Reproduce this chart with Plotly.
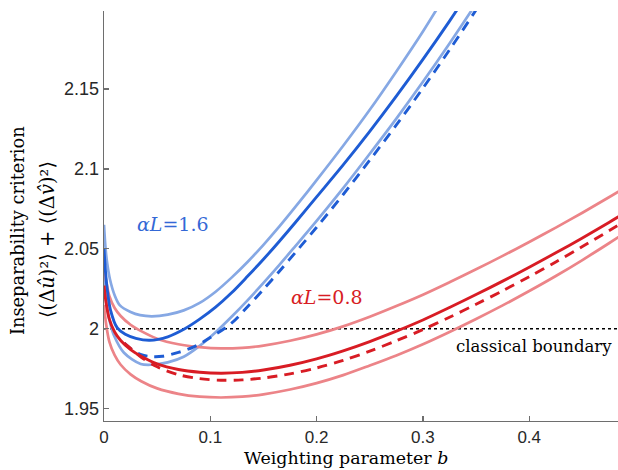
import plotly.graph_objects as go

# ---------------- data ----------------
# alpha*L = 1.6 (blue)
blue_up_b = [0, 0.0015, 0.003, 0.0056, 0.01, 0.015, 0.025, 0.034, 0.045, 0.06, 0.075, 0.09, 0.105, 0.12, 0.135, 0.15, 0.165, 0.18, 0.2, 0.225, 0.25, 0.275, 0.3, 0.325]
blue_up_y = [2.065, 2.05, 2.041, 2.031, 2.021, 2.0146, 2.0105, 2.0085, 2.0078, 2.0088, 2.0115, 2.0162, 2.0232, 2.032, 2.0418, 2.0525, 2.064, 2.0762, 2.093, 2.1145, 2.137, 2.161, 2.186, 2.213]

blue_mid_b = [0, 0.0015, 0.003, 0.006, 0.0125, 0.02, 0.03, 0.043, 0.06, 0.076, 0.09, 0.105, 0.12, 0.135, 0.15, 0.165, 0.18, 0.2, 0.225, 0.25, 0.275, 0.3, 0.325, 0.34]
blue_mid_y = [2.05, 2.035, 2.025, 2.012, 2.0005, 1.9965, 1.994, 1.9928, 1.995, 2.0, 2.006, 2.0135, 2.0225, 2.0328, 2.0435, 2.0548, 2.0665, 2.0825, 2.1025, 2.1235, 2.1455, 2.1685, 2.1925, 2.2075]

blue_lo_b = [0, 0.0015, 0.003, 0.006, 0.0094, 0.0188, 0.0345, 0.045, 0.06, 0.075, 0.09, 0.105, 0.12, 0.135, 0.15, 0.165, 0.18, 0.2, 0.225, 0.25, 0.275, 0.3, 0.325, 0.35, 0.36]
blue_lo_y = [2.036, 2.022, 2.013, 2.003, 1.9958, 1.985, 1.978, 1.9775, 1.979, 1.9825, 1.9893, 1.9978, 2.0075, 2.0178, 2.0287, 2.040, 2.0517, 2.0675, 2.088, 2.1095, 2.1315, 2.1545, 2.1785, 2.2035, 2.214]

blue_dash_b = [0.019, 0.025, 0.035, 0.045, 0.055, 0.07, 0.085, 0.1, 0.12, 0.135, 0.15, 0.165, 0.18, 0.2, 0.225, 0.25, 0.275, 0.3, 0.325, 0.35, 0.36]
blue_dash_y = [1.991, 1.9875, 1.9838, 1.9826, 1.9828, 1.9852, 1.9888, 1.9945, 2.0035, 2.0138, 2.0247, 2.036, 2.0477, 2.0635, 2.084, 2.1055, 2.1275, 2.1505, 2.1745, 2.1995, 2.21]

# alpha*L = 0.8 (red)
red_up_b = [0, 0.002, 0.005, 0.01, 0.0157, 0.025, 0.035, 0.05, 0.07, 0.09, 0.11, 0.13, 0.15, 0.175, 0.2, 0.225, 0.25, 0.275, 0.3, 0.325, 0.35, 0.375, 0.4, 0.425, 0.45, 0.475, 0.49]
red_up_y = [2.040, 2.030, 2.0205, 2.013, 2.008, 2.0025, 1.9985, 1.9938, 1.9903, 1.9885, 1.9877, 1.9881, 1.9895, 1.9925, 1.9965, 2.0015, 2.0075, 2.0142, 2.0213, 2.0291, 2.0372, 2.0456, 2.0543, 2.0633, 2.0726, 2.0823, 2.0883]

red_mid_b = [0, 0.002, 0.005, 0.01, 0.0157, 0.025, 0.035, 0.05, 0.07, 0.09, 0.11, 0.13, 0.15, 0.175, 0.2, 0.225, 0.25, 0.275, 0.3, 0.325, 0.35, 0.375, 0.4, 0.425, 0.45, 0.475, 0.49]
red_mid_y = [2.027, 2.016, 2.006, 1.998, 1.9927, 1.987, 1.9828, 1.978, 1.9745, 1.9728, 1.9722, 1.9727, 1.9742, 1.9772, 1.9812, 1.9862, 1.992, 1.9985, 2.0055, 2.0133, 2.0214, 2.0298, 2.0385, 2.0475, 2.0568, 2.0665, 2.0725]

red_lo_b = [0, 0.002, 0.005, 0.01, 0.0157, 0.025, 0.035, 0.05, 0.07, 0.09, 0.11, 0.13, 0.15, 0.175, 0.2, 0.225, 0.25, 0.275, 0.3, 0.325, 0.35, 0.375, 0.4, 0.425, 0.45, 0.475, 0.49]
red_lo_y = [2.015, 2.003, 1.992, 1.9835, 1.9775, 1.9715, 1.9672, 1.9627, 1.9593, 1.9575, 1.957, 1.9575, 1.959, 1.962, 1.966, 1.971, 1.977, 1.9833, 1.9903, 1.998, 2.0061, 2.0146, 2.0236, 2.033, 2.043, 2.0535, 2.060]

red_dash_b = [0.019, 0.025, 0.035, 0.05, 0.07, 0.09, 0.11, 0.13, 0.15, 0.175, 0.2, 0.225, 0.25, 0.275, 0.3, 0.325, 0.35, 0.375, 0.4, 0.425, 0.45, 0.475, 0.49]
red_dash_y = [1.991, 1.9878, 1.9822, 1.9762, 1.9713, 1.9688, 1.9678, 1.968, 1.9692, 1.9718, 1.9755, 1.9802, 1.986, 1.9925, 1.9995, 2.0072, 2.0153, 2.0238, 2.0326, 2.0418, 2.0514, 2.0613, 2.0674]

boundary_b = [0.0, 0.49]
boundary_y = [2.0, 2.0]

x_ticks = [0, 0.1, 0.2, 0.3, 0.4]
x_ticklabels = ["0", "0.1", "0.2", "0.3", "0.4"]
y_ticks = [1.95, 2.0, 2.05, 2.1, 2.15]
y_ticklabels = ["1.95", "2", "2.05", "2.1", "2.15"]

# ---------------- styling ----------------
LIGHT_BLUE = "rgb(134,168,228)"
DARK_BLUE = "rgb(30,92,212)"
LIGHT_RED = "rgb(236,132,136)"
DARK_RED = "rgb(216,28,36)"
AXIS_GREY = "rgb(110,110,110)"
SERIF = "DejaVu Serif"
SANS = "Liberation Sans"

fig = go.Figure()

def add(b, y, color, width, dash="solid"):
    fig.add_trace(go.Scatter(
        x=b, y=y, mode="lines",
        line=dict(color=color, width=width, dash=dash, shape="spline", smoothing=0.9),
        showlegend=False, hoverinfo="skip"))

fig.add_trace(go.Scatter(x=boundary_b, y=boundary_y, mode="lines",
                         line=dict(color="black", width=1.6, dash="dot"),
                         showlegend=False, hoverinfo="skip"))
add(blue_up_b, blue_up_y, LIGHT_BLUE, 2.7)
add(blue_lo_b, blue_lo_y, LIGHT_BLUE, 2.7)
add(red_up_b, red_up_y, LIGHT_RED, 2.7)
add(red_lo_b, red_lo_y, LIGHT_RED, 2.7)
add(blue_mid_b, blue_mid_y, DARK_BLUE, 2.9)
add(blue_dash_b, blue_dash_y, DARK_BLUE, 2.9, "10px,7px")
add(red_mid_b, red_mid_y, DARK_RED, 2.9)
add(red_dash_b, red_dash_y, DARK_RED, 2.9, "10px,7px")

# the page body margin is removed by a post script, so the figure fills the
# 618x470 window; plot area at screen x 104..618, y 11..421
W, H = 618, 470
PL, PR, PT, PB = 104, 618, 11, 421
L, R, T, B = PL, W - PR, PT, H - PB

def px2paper(px, py):
    return (px - PL) / (PR - PL), (PB - py) / (PB - PT)

annotations = []
annotations.append(dict(x=0.065, y=2.0658, xref="x", yref="y", text="<i>αL</i>=1.6",
                        showarrow=False, font=dict(family=SERIF, size=19, color="rgb(52,104,214)"),
                        xanchor="center", yanchor="middle"))
annotations.append(dict(x=0.2093, y=2.0196, xref="x", yref="y", text="<i>αL</i>=0.8",
                        showarrow=False, font=dict(family=SERIF, size=19, color=DARK_RED),
                        xanchor="center", yanchor="middle"))
px_, py_ = px2paper(614, 346)
annotations.append(dict(x=px_, y=py_, xref="paper", yref="paper", text="classical boundary",
                        showarrow=False, font=dict(family=SERIF, size=16.5, color="black"),
                        xanchor="right", yanchor="middle"))
px_, py_ = px2paper(17, 231)
annotations.append(dict(x=px_, y=py_, xref="paper", yref="paper", text="Inseparability criterion",
                        showarrow=False, textangle=-90, font=dict(family=SERIF, size=17.8, color="black"),
                        xanchor="center", yanchor="middle"))
px_, py_ = px2paper(47, 240)
annotations.append(dict(x=px_, y=py_, xref="paper", yref="paper",
                        text="⟨(Δ<i>û</i>)²⟩ + ⟨(Δ<i>v̂</i>)²⟩",
                        showarrow=False, textangle=-90, font=dict(family=SERIF, size=19.5, color="black"),
                        xanchor="center", yanchor="middle"))
px_, py_ = px2paper(346, 470)
annotations.append(dict(x=px_, y=py_, xref="paper", yref="paper", text="Weighting parameter <i>b</i>",
                        showarrow=False, font=dict(family=SERIF, size=17.4, color="black"),
                        xanchor="center", yanchor="bottom"))

fig.update_layout(
    width=W, height=H,
    margin=dict(l=L, r=R, t=T, b=B, pad=0),
    paper_bgcolor="white", plot_bgcolor="white",
    annotations=annotations,
    hovermode=False,
    xaxis=dict(range=[0, 0.4835], tickvals=x_ticks, ticktext=x_ticklabels,
               showline=True, linecolor=AXIS_GREY, linewidth=1.4, mirror=False,
               ticks="inside", ticklen=5, tickwidth=1.2, tickcolor=AXIS_GREY,
               showgrid=False, zeroline=False,
               tickfont=dict(family=SANS, size=17, color="rgb(40,40,40)")),
    yaxis=dict(range=[1.9423, 2.1988], tickvals=y_ticks, ticktext=y_ticklabels,
               showline=True, linecolor=AXIS_GREY, linewidth=1.4, mirror=False,
               ticks="inside", ticklen=5, tickwidth=1.2, tickcolor=AXIS_GREY,
               showgrid=False, zeroline=False,
               tickfont=dict(family=SANS, size=18, color="rgb(40,40,40)")),
)

fig.write_html("out.html",
               config={"displayModeBar": False, "staticPlot": True},
               post_script="document.body.style.margin='0';document.body.style.overflow='hidden';")
